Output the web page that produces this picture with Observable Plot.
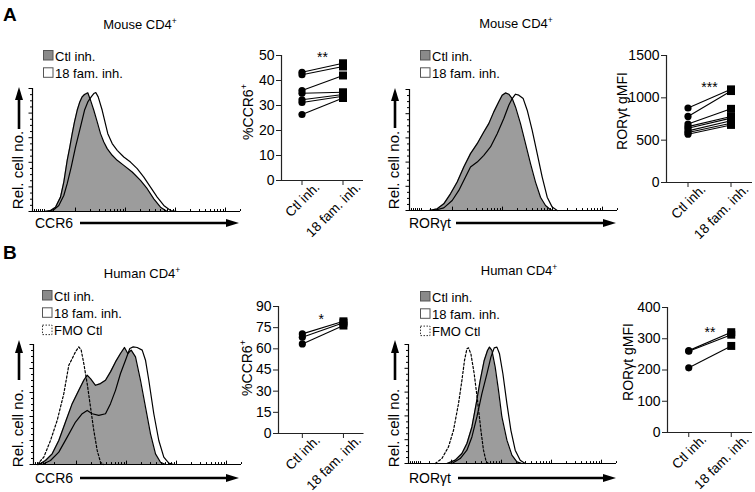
<!DOCTYPE html>
<html><head><meta charset="utf-8">
<script src="https://cdn.jsdelivr.net/npm/d3@7"></script>
<script src="https://cdn.jsdelivr.net/npm/@observablehq/plot@0.6"></script>
<style>
body{margin:0;background:#fff;}
#fig{position:relative;width:755px;height:492px;overflow:hidden;background:#fff;font-family:"Liberation Sans",Arial,sans-serif;}
#overlay{position:absolute;left:0;top:0;pointer-events:none;}
</style></head><body><div id="fig"></div>
<script>
// ---------- data ----------
const conds = ["Ctl inh.", "18 fam. inh."];

// paired scatter values
const mCcr6Ctl = [43.3, 42.3, 36.0, 34.9, 32.3, 31.2, 26.4];
const mCcr6Fam = [46.9, 45.6, 42.0, 35.3, 34.4, 33.7, 33.0];
const mRorCtl = [880, 780, 690, 660, 640, 610, 590, 570];
const mRorFam = [1100, 1080, 870, 780, 760, 730, 700, 680];
const hCcr6Ctl = [70.6, 68.2, 63.5];
const hCcr6Fam = [79.5, 78.5, 76.5];
const hRorCtl = [262, 260, 207];
const hRorFam = [321, 313, 277];

const mCcr6Ticks = [0, 10, 20, 30, 40, 50];
const mRorTicks = [0, 500, 1000, 1500];
const hCcr6Ticks = [0, 15, 30, 45, 60, 75, 90];
const hRorTicks = [0, 100, 200, 300, 400];
const sigLabels = ["**", "***", "*", "**"];
const sigValues = [51.2, 1181, 85, 336];

// histograms (x: display channel, y: % of max)
const h1CtlX = [11, 18, 23, 28, 31.3, 34.7, 37.3, 39.7, 42, 44.7, 47.3, 49.7, 52, 54, 55.3, 58, 61.3, 64.7, 68, 71.3, 74.7, 79.7, 84.7, 91.3, 99.7, 108, 114.7, 121.3, 128, 134.7];
const h1CtlY = [0, 0.8, 3.5, 11.7, 23.9, 41.6, 52.4, 63.3, 72.8, 82.3, 89.1, 93.2, 95.1, 95.9, 96.5, 90.5, 82.3, 72.8, 63.3, 56.5, 51.1, 45.7, 41.6, 37.5, 32.1, 25.3, 18.5, 10.3, 3.5, 0];
const h1FamX = [14.7, 21.3, 26.3, 31.3, 34.7, 38.7, 43, 48, 52, 55.3, 58.7, 61.3, 63.3, 65.7, 69.7, 75.3, 79.7, 84.7, 91.3, 98, 104.7, 111.3, 118, 124.7, 131.3, 138, 144.7];
const h1FamY = [0, 1.4, 4.9, 13, 22.6, 36.1, 52.4, 68.8, 82.3, 89.1, 93.2, 95.9, 96.7, 93.2, 82.3, 63.3, 55.2, 49.7, 44.3, 40.2, 34.8, 28, 19.8, 11.7, 4.9, 0.8, 0];

const h2CtlX = [19.3, 27.7, 34.3, 41, 47.7, 54.3, 61, 67.7, 74.3, 79.3, 84.3, 89.3, 92.7, 96, 99.3, 102.7, 106, 111, 116, 121, 126, 131, 136, 141, 144.3];
const h2CtlY = [0, 1.4, 5.5, 13.8, 23.5, 35.9, 47, 55.2, 64.9, 71.8, 81.5, 89.8, 95.3, 97.2, 96.1, 92.5, 85.6, 71.8, 55.2, 38.7, 23.5, 11, 4.1, 0.6, 0];
const h2FamX = [24.3, 34.3, 42.7, 49.3, 56, 61, 67.7, 74.3, 81, 87.7, 94.3, 99.3, 102.7, 106, 109.3, 113.7, 117.7, 122.7, 127.7, 132.7, 137.7, 142.7, 147.7];
const h2FamY = [0, 2.2, 8.3, 16.6, 27.6, 35.9, 40, 45.6, 52.5, 63.5, 76, 87, 92.5, 96.1, 95.3, 92.5, 82.9, 66.3, 47, 27.6, 11, 2.8, 0];

const h3CtlX = [5.3, 12, 18.7, 25.3, 32, 38.7, 45.3, 50.3, 53.7, 57, 62, 67, 72, 77, 82, 87, 91, 94.3, 97.7, 102, 107, 112, 117, 122, 127, 132];
const h3CtlY = [0, 3.3, 8.9, 20, 35.4, 50.7, 61.8, 70.2, 74.4, 71.6, 66, 67.4, 70.2, 77.2, 85.5, 92.5, 97.5, 92.5, 95.3, 89.7, 70.2, 47.9, 25.6, 8.9, 1.9, 0];
const h3FamX = [8.7, 17, 25.3, 33.7, 42, 48.7, 53.7, 58.7, 65.3, 72, 77, 82, 87, 92, 96.3, 99.7, 103.7, 108.7, 112, 115.3, 120.3, 125.3, 130.3, 135.3, 140.3];
const h3FamY = [0, 3.3, 10.3, 22.8, 35.4, 42.3, 45.1, 42.3, 40.9, 42.3, 50.7, 61.8, 75.8, 86.9, 96.7, 98, 97.5, 95.3, 86.9, 70.2, 42.3, 20, 6.1, 1.1, 0];
const h3FmoX = [3.7, 10.3, 17, 23.7, 30.3, 35.3, 38.7, 42, 45.3, 47.7, 50.3, 53.7, 57, 60.3, 63.7, 67, 70.3];
const h3FmoY = [0, 6.1, 20, 36.8, 59, 82.7, 88.3, 93.9, 98, 95.3, 84.1, 67.4, 47.9, 28.4, 11.7, 1.9, 0];

const h4CtlX = [38.4, 46.7, 53.4, 58.4, 63.4, 67.7, 71.7, 75.7, 79, 81, 83.4, 86.7, 90, 93.4, 98.4, 103.4, 108.4, 113.4];
const h4CtlY = [0, 2.8, 8.4, 16.8, 30.7, 50.3, 69.8, 86.6, 95, 97.8, 95, 81, 61.5, 39.1, 19.6, 7, 1.4, 0];
const h4FamX = [43.4, 51.7, 58.4, 63.4, 68.4, 73.4, 78.4, 82.4, 85.7, 88.4, 91, 94.4, 98.4, 102.4, 106.7, 111.7, 116.7];
const h4FamY = [0, 4.2, 11.2, 22.3, 39.1, 58.7, 75.4, 89.4, 97.2, 97.8, 92.2, 75.4, 50.3, 27.9, 11.2, 2.8, 0];
const h4FmoX = [26.7, 33.4, 40, 45, 50, 53.4, 56, 58.4, 60, 62.4, 65.7, 69, 72.4, 75, 77.7, 80];
const h4FmoY = [0, 4.2, 14, 27.9, 50.3, 69.8, 86.6, 96.4, 97.2, 92.2, 75.4, 53.1, 27.9, 11.2, 1.4, 0];

// histogram axis tick positions
const histXMajor = [43, 93, 143, 193];
const histXMinor = [2, 4, 6, 8, 10, 12, 21, 58, 67, 73, 78, 82, 85, 88, 91, 108, 117, 123, 128, 132, 135, 138, 141, 158, 167, 173, 178, 182, 185, 188, 191, 208];
const histYMajor = [0, 20, 40, 60, 80, 100];
const histYMinor = [5, 10, 15, 25, 30, 35, 45, 50, 55, 65, 70, 75, 85, 90, 95];

// text
const titles = ["Mouse CD4", "Mouse CD4", "Human CD4", "Human CD4"];
const legendLabels = ["Ctl inh.", "18 fam. inh.", "FMO Ctl"];
const markers = ["CCR6", "RORγt", "CCR6", "RORγt"];
const scatterLabels = ["%CCR6", "RORγt gMFI", "%CCR6", "RORγt gMFI"];

// ---------- drawing ----------
const fig = document.getElementById("fig");
const FONT = "'Liberation Sans', Arial, sans-serif";
const GRAY = "#9c9c9c";
const tickLabelSpecs = [];

function place(el, left, top) {
  el.style.position = "absolute";
  el.style.left = left + "px";
  el.style.top = top + "px";
  el.style.background = "transparent";
  el.style.overflow = "visible";
  fig.appendChild(el);
}

function histPlot(box, series) {
  const mL = 14, mT = 6, mR = 6, mB = 8;
  const fw = box.right - box.left, fh = box.bottom - box.top;
  const marks = [];
  series.forEach(s => {
    if (s.fill) marks.push(Plot.areaY(s.x.map((x, i) => ({x, y: s.y[i]})), {x: "x", y: "y", fill: s.fill}));
  });
  series.forEach(s => {
    marks.push(Plot.lineY(s.x.map((x, i) => ({x, y: s.y[i]})), {x: "x", y: "y", stroke: "#000", strokeWidth: 1.2, strokeDasharray: s.dash}));
  });
  marks.push(
    Plot.ruleX([0], {stroke: "#000", strokeWidth: 1.2}),
    Plot.ruleY([0], {stroke: "#000", strokeWidth: 1.2}),
    Plot.ruleX(histXMajor, {y1: 0, y2: 2.8, stroke: "#000"}),
    Plot.ruleX(histXMinor, {y1: 0, y2: 1.6, stroke: "#000"}),
    Plot.ruleY(histYMajor, {x1: -3.5, x2: 0, stroke: "#000"}),
    Plot.ruleY(histYMinor, {x1: -2, x2: 0, stroke: "#000"})
  );
  const svg = Plot.plot({
    width: fw + mL + mR, height: fh + mT + mB,
    marginLeft: mL, marginRight: mR, marginTop: mT, marginBottom: mB,
    x: {domain: [0, 208], axis: null},
    y: {domain: [0, 100], axis: null},
    marks
  });
  place(svg, box.left - mL, box.top - mT);
}

function scatterPlot(box, xDomain, ctl, fam, ticks, sig, sigY) {
  const mL = 40, mT = 12, mR = 3, mB = 10;
  const fw = box.right - box.left, fh = box.bottom - box.top;
  const pairs = ctl.map((c, i) => ({c, f: fam[i]}));
  const svg = Plot.plot({
    width: fw + mL + mR, height: fh + mT + mB,
    marginLeft: mL, marginRight: mR, marginTop: mT, marginBottom: mB,
    style: {fontFamily: FONT, fontSize: "14px", color: "#000"},
    x: {domain: xDomain, axis: null},
    y: {domain: [ticks[0], ticks[ticks.length - 1]], axis: null},
    marks: [
      Plot.ruleY([ticks[0]], {stroke: "#222", strokeWidth: 1.2}),
      Plot.ruleX([xDomain[0]], {stroke: "#222", strokeWidth: 1.2}),
      Plot.axisY({ticks, tickSize: 5, tickPadding: 2, tickFormat: d => String(d), label: null, fontSize: 14, stroke: "#222"}),
      Plot.axisX({ticks: [0, 1], tickFormat: () => "", tickSize: 5, label: null, stroke: "#222"}),
      Plot.link(pairs, {x1: () => 0, x2: () => 1, y1: "c", y2: "f", stroke: "#000", strokeWidth: 1.1}),
      Plot.dot(pairs, {x: () => 0, y: "c", r: 3.6, fill: "#000", symbol: "circle"}),
      Plot.dot(pairs, {x: () => 1, y: "f", r: 4.5, fill: "#000", symbol: "square"}),
      Plot.text([sig], {y: () => sigY, text: d => d, fontSize: 14, lineAnchor: "top"})
    ]
  });
  place(svg, box.left - mL, box.top - mT);
  const xs = svg.scale("x");
  conds.forEach((c, i) => tickLabelSpecs.push({text: c, x: box.left - mL + xs.apply(i), y: box.bottom}));
}

const hb = [
  {left: 32, top: 88, right: 240, bottom: 211},
  {left: 409, top: 89, right: 617, bottom: 210},
  {left: 33, top: 344, right: 241, bottom: 464},
  {left: 408, top: 344, right: 616, bottom: 463}
];
histPlot(hb[0], [{x: h1CtlX, y: h1CtlY, fill: GRAY}, {x: h1FamX, y: h1FamY}]);
histPlot(hb[1], [{x: h2CtlX, y: h2CtlY, fill: GRAY}, {x: h2FamX, y: h2FamY}]);
histPlot(hb[2], [{x: h3CtlX, y: h3CtlY, fill: GRAY}, {x: h3FamX, y: h3FamY}, {x: h3FmoX, y: h3FmoY, dash: "2.2,2"}]);
histPlot(hb[3], [{x: h4CtlX, y: h4CtlY, fill: GRAY}, {x: h4FamX, y: h4FamY}, {x: h4FmoX, y: h4FmoY, dash: "2.2,2"}]);

scatterPlot({left: 281, top: 55, right: 363, bottom: 180}, [-0.5, 1.5], mCcr6Ctl, mCcr6Fam, mCcr6Ticks, sigLabels[0], sigValues[0]);
scatterPlot({left: 666, top: 55, right: 752, bottom: 182}, [-0.5, 1.5], mRorCtl, mRorFam, mRorTicks, sigLabels[1], sigValues[1]);
scatterPlot({left: 278, top: 306, right: 363.5, bottom: 433}, [-0.58, 1.5], hCcr6Ctl, hCcr6Fam, hCcr6Ticks, sigLabels[2], sigValues[2]);
scatterPlot({left: 667, top: 307, right: 752, bottom: 432}, [-0.5, 1.5], hRorCtl, hRorFam, hRorTicks, sigLabels[3], sigValues[3]);

// ---------- overlay: panel letters, titles, legends, axis arrows ----------
const ov = d3.select(fig).append("svg").attr("id", "overlay").attr("width", 755).attr("height", 492)
  .attr("font-family", FONT);

// rotated category labels under the paired plots (positions from the plots' x scales)
tickLabelSpecs.forEach(s => {
  ov.append("text").attr("transform", `translate(${s.x + 19},${s.y + 8}) rotate(-45)`)
    .attr("text-anchor", "end").attr("font-size", 13.5).text(s.text);
});

[["A", 3, 21], ["B", 3, 259]].forEach(([t, x, y]) =>
  ov.append("text").attr("x", x).attr("y", y).attr("font-size", 19).attr("font-weight", "bold").text(t));

const titlePos = [[140, 29], [516, 28], [142, 278], [519, 275]];
titles.forEach((t, i) => {
  const tx = ov.append("text").attr("x", titlePos[i][0]).attr("y", titlePos[i][1]).attr("font-size", 13).attr("text-anchor", "middle");
  tx.append("tspan").text(t);
  tx.append("tspan").attr("font-size", 8.5).attr("dy", -5.5).text("+");
});

const legendPos = [[43, 50, 2], [420, 50, 2], [42, 290, 3], [420, 291, 3]];
legendPos.forEach(([sx, sy, n]) => {
  for (let k = 0; k < n; k++) {
    const y = sy + k * 17.3;
    ov.append("rect").attr("x", sx + 0.5).attr("y", y + 0.5).attr("width", 9.5).attr("height", 9.5)
      .attr("fill", k === 0 ? "#8a8a8a" : "#fff")
      .attr("stroke", k === 2 ? "#333" : "#555").attr("stroke-width", 1)
      .attr("stroke-dasharray", k === 2 ? "1.5,1.5" : null);
    ov.append("text").attr("x", sx + 12).attr("y", y + 10.5).attr("font-size", 13).text(legendLabels[k]);
  }
});

function arrowUp(x, tip, base) {
  ov.append("line").attr("x1", x).attr("x2", x).attr("y1", base).attr("y2", tip + 10).attr("stroke", "#000").attr("stroke-width", 2.6);
  ov.append("path").attr("d", `M${x},${tip}L${x - 4},${tip + 13}L${x + 4},${tip + 13}Z`).attr("fill", "#000");
}
function arrowRight(y, x0, tip) {
  ov.append("line").attr("x1", x0).attr("x2", tip - 10).attr("y1", y).attr("y2", y).attr("stroke", "#000").attr("stroke-width", 2.6);
  ov.append("path").attr("d", `M${tip},${y}L${tip - 13},${y - 4}L${tip - 13},${y + 4}Z`).attr("fill", "#000");
}

const yArrows = [[19, 87, 129, 23, 170], [395, 88, 128, 399, 170], [19, 340, 380, 23, 428], [395, 340, 380, 399, 428]];
yArrows.forEach(([ax, tip, base, lx, ly]) => {
  arrowUp(ax, tip, base);
  ov.append("text").attr("transform", `translate(${lx},${ly}) rotate(-90)`).attr("text-anchor", "middle")
    .attr("font-size", 15).text("Rel. cell no.");
});

const xArrows = [[35, 228, 223, 80, 239], [409, 228, 223, 456, 616], [35, 483, 478, 80, 239], [409, 483, 478, 458, 616]];
xArrows.forEach(([lx, ly, ay, x0, tip], i) => {
  ov.append("text").attr("x", lx).attr("y", ly).attr("font-size", 14).text(markers[i]);
  arrowRight(ay, x0, tip);
});

const sLab = [[253, 112], [627, 111], [252, 368], [633, 362]];
scatterLabels.forEach((t, i) => {
  const tx = ov.append("text").attr("transform", `translate(${sLab[i][0]},${sLab[i][1]}) rotate(-90)`)
    .attr("text-anchor", "middle").attr("font-size", 14);
  tx.append("tspan").text(t);
  if (t.startsWith("%")) tx.append("tspan").attr("font-size", 9).attr("dy", -6).text("+");
});
</script></body></html>
